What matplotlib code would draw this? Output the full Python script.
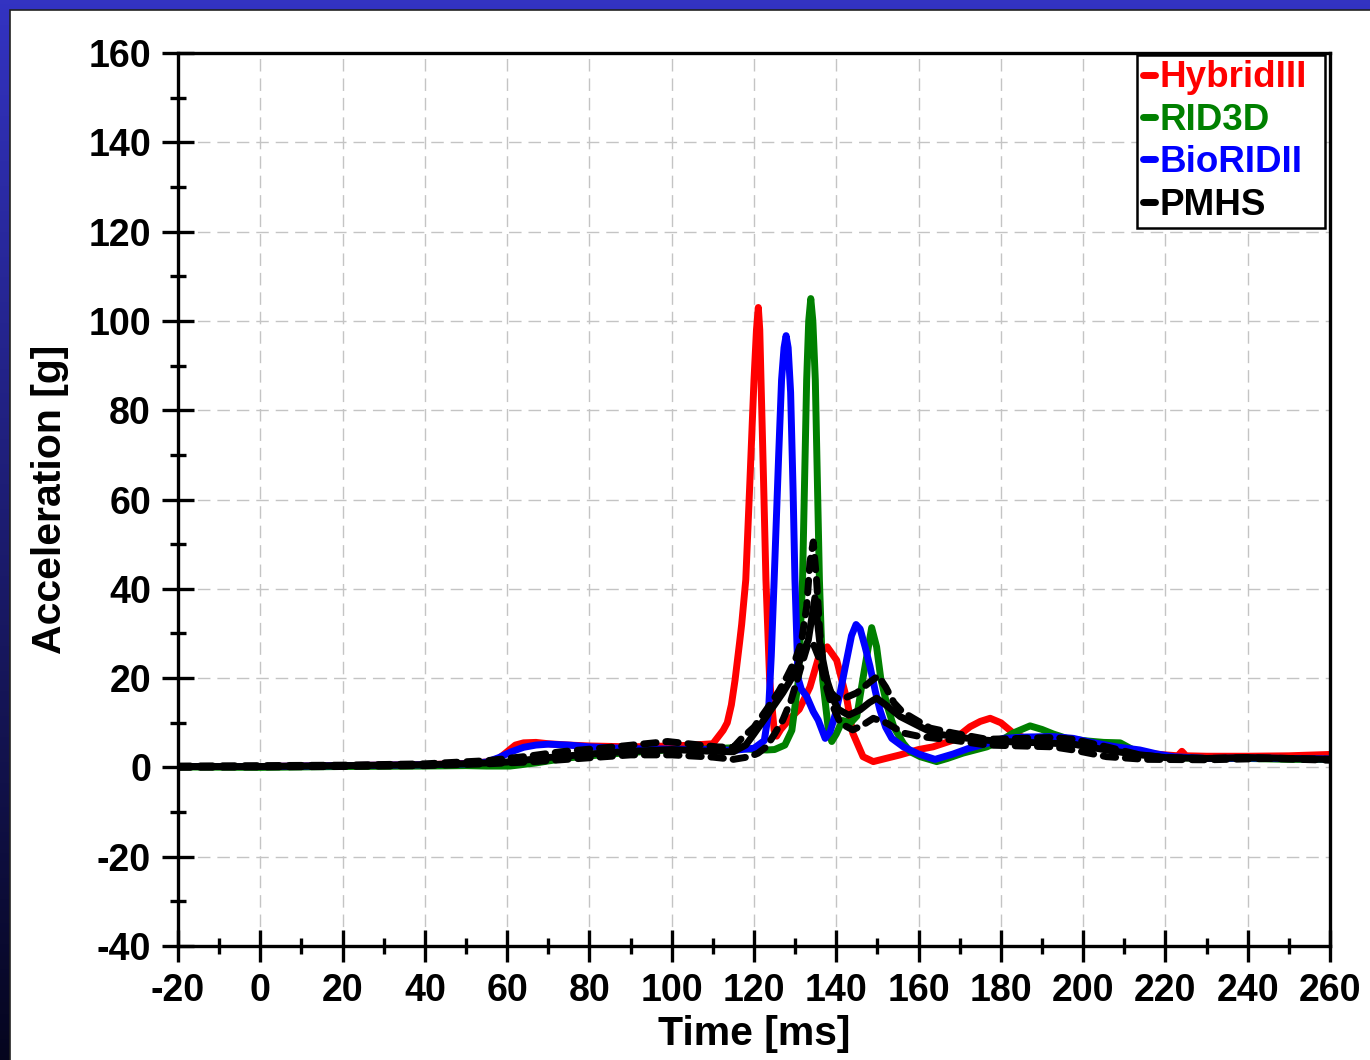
import matplotlib
matplotlib.use("Agg")
import matplotlib.pyplot as plt
import numpy as np
from matplotlib.patches import Rectangle
from matplotlib.ticker import MultipleLocator

# curves: time [ms], acceleration [g]
hybrid_t = [-20, 0, 20, 40, 50, 55, 58, 60, 62, 64, 67, 70, 75, 80, 90, 100, 105, 110,
            112.5, 113.5, 114.5, 115.4, 116.5, 117, 118, 119, 120, 120.6, 121.05, 121.4, 121.7, 122.3,
            122.9, 123.8, 124.9, 125.5, 126.5, 128.8, 131, 133.6, 136, 137.8, 140.1, 141.5,
            142.6, 144, 146.5, 149, 152, 155.5, 160, 163.5, 168.4, 172.5, 175, 177.4, 180,
            183, 186, 190, 195, 200, 205, 210, 215, 220, 223, 224, 225, 230, 240, 250, 260]
hybrid_a = [0.2, 0.2, 0.4, 0.6, 0.9, 1.2, 2.0, 3.5, 5.0, 5.5, 5.6, 5.3, 5.0, 4.8, 4.6, 4.8, 5.0, 5.3,
            8.3, 10, 14, 19.6, 28, 32, 42, 64, 86.8, 98, 103, 98, 86.8, 65,
            42, 19.6, 8.3, 7.0, 8.5, 11, 13, 18, 25.6, 27, 24, 19,
            15.1, 7.7, 2.4, 1.3, 2.0, 2.8, 4.0, 4.6, 6.1, 9.1, 10.3, 11, 10,
            7.7, 6.5, 6.0, 5.5, 5.0, 4.3, 3.8, 3.2, 2.8, 2.6, 3.6, 2.6, 2.5, 2.5, 2.6, 2.9]

rid_t = [-20, 0, 20, 40, 50, 55, 60.7, 67, 74.5, 85, 98.8, 110, 115, 120, 123.1, 125, 127.5,
         129.2, 130.8, 131.8, 132.8, 133.3, 133.8, 134.3, 134.9, 135.9, 136.7, 138.1, 138.9, 140, 141.5,
         143.5, 145, 146.5, 148.6, 149.8, 150.8, 152.3, 154, 156.3, 158, 160.4, 164.4, 167,
         170.8, 176.6, 180, 183, 187.1, 190, 192.7, 196, 200, 205, 209, 212, 216, 222, 230,
         240, 250, 260]
rid_a = [0.1, 0.0, 0.2, 0.3, 0.4, 0.3, 0.3, 1.0, 2.1, 3.0, 3.9, 4.2, 4.4, 4.0, 3.9, 4.0, 5.0,
         8.3, 19.6, 42, 86.8, 100, 105, 100, 86.8, 42, 19.6, 8.3, 5.8, 7.5, 10.5,
         10, 11.5, 20, 31.3, 27, 20, 14, 9, 5.4, 3.5, 2.4, 1.3, 2.0,
         3.2, 4.6, 6.0, 7.7, 9.3, 8.5, 7.5, 6.5, 6.0, 5.6, 5.5, 4.0, 3.0, 2.2, 2.0,
         2.0, 1.8, 1.8]

biorid_t = [-20, 0, 20, 40, 50, 55, 58, 61, 64, 67, 70, 75, 80, 90, 100, 110, 115, 120,
            122.5, 123.5, 124.2, 124.9, 126, 126.7, 127.3, 127.8, 128.3, 128.9, 129.5, 129.95, 130.7,
            131.5, 132.8, 134.4, 135.6, 137.3, 138.5, 139.8, 141, 142.5, 143.7, 144.8, 145.8,
            147, 148.2, 149.5, 150.6, 152, 153.5, 156.3, 160, 164, 168.4, 172, 176, 180.6,
            186, 192.7, 197.6, 202, 208, 213.8, 218, 222, 230, 240, 250, 260]
biorid_a = [0.2, 0.2, 0.4, 0.6, 0.8, 1.2, 2.2, 3.5, 4.5, 5.0, 5.2, 5.0, 4.6, 4.2, 4.1, 4.0, 3.8, 4.3,
            6.0, 12, 25, 42, 70, 86.8, 94, 96.7, 94, 84, 62, 42, 20,
            17.5, 15.9, 12.5, 10.6, 6.5, 8.0, 12, 17, 24, 29.5, 32, 31,
            27, 22.6, 17, 12.9, 9.0, 6.5, 4.6, 3.0, 1.8, 3.0, 4.2, 5.2, 6.5,
            6.8, 6.9, 6.5, 5.6, 4.6, 3.9, 3.0, 2.4, 2.0, 2.1, 2.0, 1.9]

pmhs_t = [-20, 0, 20, 40, 50, 60, 70, 80, 90, 100, 110, 115, 118, 120, 123, 127, 129.5,
          131.2, 133.2, 134.8, 136.1, 137.7, 139.3, 140.5, 143, 145.8, 148, 149.8, 152,
          155.5, 160.4, 163.5, 168.4, 175, 180.5, 192.7, 197.6, 205, 212, 220, 230, 240,
          250, 260]
pmhs_a = [0.2, 0.2, 0.4, 0.6, 0.8, 1.2, 2.2, 3.0, 3.6, 4.0, 3.6, 3.5, 5.0, 7.5, 11.4, 16.7, 20.5,
          24, 28.5, 38, 27, 19.6, 15.1, 13, 11.7, 12.9, 14.5, 15.5, 14,
          11.4, 9.1, 7.7, 6.9, 6.2, 5.8, 5.4, 5.2, 4.0, 3.0, 2.2, 2.0, 2.2,
          2.0, 1.8]

pmhs_hi_t = [-20, 20, 40, 55, 65, 73, 85, 99, 105, 111, 115, 117, 120, 123, 126, 128, 130,
             131.5, 132.8, 133.6, 134.4, 135.2, 136, 137, 138.5, 140, 142, 145, 148, 150.2,
             152, 154, 156, 158.7, 162.8, 168.4, 176.6, 185, 192.7, 197.6, 205.7, 213.8, 220,
             230, 240, 250, 260]
pmhs_hi_a = [0.3, 0.5, 0.8, 1.5, 2.5, 3.5, 4.5, 5.8, 5.2, 4.6, 4.5, 6.5, 9.0, 12.9, 17, 20.3, 24,
             28, 36, 46, 50.5, 42, 30, 22, 17, 15.5, 15.5, 16.7, 19, 20.5,
             18, 14.5, 12.5, 11, 8.8, 7.7, 6.3, 6.5, 6.7, 6.3, 4.6, 2.8, 2.2,
             2.0, 2.2, 2.0, 1.8]

pmhs_lo_t = [-20, 20, 40, 55, 65, 73, 90, 100, 110, 115, 119, 121, 123, 125, 127, 129, 131.2,
             133.2, 134.5, 136, 137.3, 138.5, 141, 144, 146.5, 149, 152.3, 156.3, 160.4, 168.4,
             176.6, 185, 192.7, 197.6, 205.7, 215, 230, 245, 260]
pmhs_lo_a = [0.0, 0.2, 0.4, 0.8, 1.2, 1.7, 2.8, 2.8, 2.3, 1.8, 2.4, 3.2, 4.6, 7.5, 10.6, 15, 21.8,
             27.9, 27.5, 24, 19, 15.1, 9.9, 8.4, 9.5, 11, 9.9, 7.7, 6.9, 6.1,
             5.0, 4.8, 4.6, 3.9, 2.4, 1.8, 1.7, 2.0, 1.6]

labels = ["HybridIII", "RID3D", "BioRIDII", "PMHS"]
colors = ["#ff0000", "#008000", "#0000ff", "#000000"]

plt.rcParams["font.family"] = ["Liberation Sans", "DejaVu Sans"]
plt.rcParams["font.weight"] = "bold"
plt.rcParams["axes.unicode_minus"] = False

fig = plt.figure(figsize=(13.7, 10.6), dpi=100)

# blue gradient frame behind a white panel
bg = fig.add_axes([0, 0, 1, 1], zorder=-10)
top_col = np.array([0.20, 0.20, 0.76])
bot_col = np.array([0.02, 0.02, 0.12])
frac = np.linspace(0, 1, 256)[:, None]
grad = (top_col[None, :] * (1 - frac) + bot_col[None, :] * frac)[:, None, :]
bg.imshow(grad, aspect="auto", extent=[0, 1, 0, 1])
bg.add_patch(Rectangle((10 / 1370, -0.01), 1.0, 1 - 10 / 1060 + 0.01, transform=bg.transAxes,
                       facecolor="white", edgecolor="#222222", linewidth=1.2))
bg.set_xlim(0, 1)
bg.set_ylim(0, 1)
bg.axis("off")

ax = fig.add_axes([178 / 1370, 114 / 1060, 1152 / 1370, 893 / 1060])
ax.set_facecolor("white")

series = [(hybrid_t, hybrid_a), (rid_t, rid_a), (biorid_t, biorid_a), (pmhs_t, pmhs_a)]
for (t, a), lab, c in zip(series, labels, colors):
    ax.plot(t, a, color=c, lw=5, label=lab, solid_joinstyle="round", solid_capstyle="round")

for t, a in [(pmhs_hi_t, pmhs_hi_a), (pmhs_lo_t, pmhs_lo_a)]:
    ax.plot(t, a, color="black", lw=5, linestyle=(0, (1.8, 1.4)), dash_capstyle="round")

ax.set_xlim(-20, 260)
ax.set_ylim(-40, 160)
ax.xaxis.set_major_locator(MultipleLocator(20))
ax.xaxis.set_minor_locator(MultipleLocator(10))
ax.yaxis.set_major_locator(MultipleLocator(20))
ax.yaxis.set_minor_locator(MultipleLocator(10))

ax.grid(True, which="major", color="#c4c4c4", lw=1.0, linestyle=(0, (9, 5)))
ax.set_axisbelow(True)

for s in ax.spines.values():
    s.set_linewidth(2.4)
ax.tick_params(which="major", direction="inout", length=23, width=2.4, labelsize=27, pad=8)
ax.tick_params(which="minor", direction="inout", length=12, width=2.4)
for lbl in ax.get_xticklabels() + ax.get_yticklabels():
    lbl.set_fontweight("bold")

ax.set_xlabel("Time [ms]", fontsize=29.5, fontweight="bold")
ax.set_ylabel("Acceleration [g]", fontsize=29.5, fontweight="bold")
ax.xaxis.set_label_coords(0.5, -0.077)
ax.yaxis.set_label_coords(-0.095, 0.5)

# legend: entries without frame, box drawn separately (wider on the right)
leg = ax.legend(loc="upper left", bbox_to_anchor=(0.8325, 0.9978), borderaxespad=0,
                prop={"size": 26.5, "weight": "bold"}, handlelength=0.35, handletextpad=0.12,
                labelspacing=0.2, borderpad=0.15, frameon=False)
for txt, c in zip(leg.get_texts(), colors):
    txt.set_color(c)
ax.add_patch(Rectangle((0.8325, 0.804), 0.9957 - 0.8325, 0.9978 - 0.804, transform=ax.transAxes,
                       facecolor="white", edgecolor="black", linewidth=1.8, zorder=4.9))

fig.savefig("out.png", dpi=100)
